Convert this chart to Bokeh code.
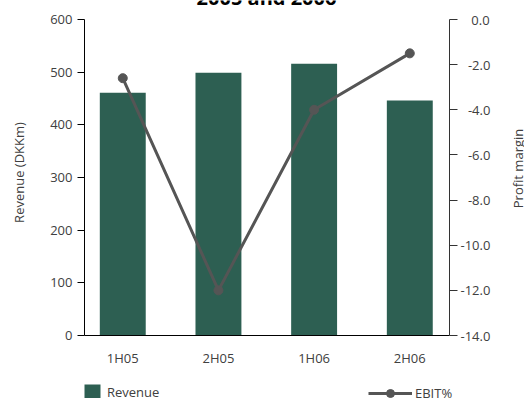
import numpy as np
from bokeh.plotting import figure
from bokeh.models import (Range1d, LinearAxis, FixedTicker, Label, Legend,
                          LegendItem)
from bokeh.embed import file_html
from bokeh.resources import INLINE

# --- data -------------------------------------------------------------
periods = ["1H05", "2H05", "1H06", "2H06"]
revenue = [461, 499, 516, 446]            # DKKm
ebit_margin = [-2.6, -12.0, -4.0, -1.5]   # EBIT %
revenue_ticks = [0, 100, 200, 300, 400, 500, 600]
margin_ticks = [0.0, -2.0, -4.0, -6.0, -8.0, -10.0, -12.0, -14.0]
title_text = "2005 and 2006"

# --- styling ----------------------------------------------------------
FONT = "Open Sans"
TEXT = "#404040"
BAR = "#2d5f52"
LINE = "#555555"

# canvas size and the edges of the plotting box (px from top-left)
W, H = 524, 398
BOX_L, BOX_R, BOX_T, BOX_B = 84, 449, 19, 335

# value ranges covered by the plotting box
X_LO, X_HI = -0.40, 3.415
REV_LO, REV_HI = 0, 600
MAR_LO, MAR_HI = -14, 0


def canvas_range(lo, hi, near, far, size_near, size_far):
    """Extend [lo, hi] (spanning far-near px) out to the canvas edges."""
    per_px = (hi - lo) / (far - near)
    return Range1d(lo - size_near * per_px, hi + size_far * per_px)


x_range = canvas_range(X_LO, X_HI, BOX_L, BOX_R, BOX_L, W - BOX_R)
rev_range = canvas_range(REV_LO, REV_HI, BOX_T, BOX_B, H - BOX_B, BOX_T)
mar_range = canvas_range(MAR_LO, MAR_HI, BOX_T, BOX_B, H - BOX_B, BOX_T)

x = np.arange(len(periods))

p = figure(width=W, height=H, output_backend="svg", toolbar_location=None,
           title=None, x_range=x_range, y_range=rev_range,
           min_border=0, min_border_left=0, min_border_right=0,
           min_border_top=0, min_border_bottom=0)
p.outline_line_color = None
p.xgrid.visible = False
p.ygrid.visible = False
p.background_fill_color = "white"
p.border_fill_color = "white"

p.extra_y_ranges = {"margin": mar_range}

bars = p.vbar(x=x, top=revenue, bottom=0, width=0.48,
              fill_color=BAR, line_color=None)
line = p.line(x, ebit_margin, y_range_name="margin",
              line_color=LINE, line_width=3)
dots = p.scatter(x, ebit_margin, y_range_name="margin", size=9,
                 fill_color=LINE, line_color=LINE)

# left axis: revenue
ly = p.yaxis[0]
ly.fixed_location = X_LO
ly.bounds = (REV_LO, REV_HI)
ly.ticker = FixedTicker(ticks=revenue_ticks)
ly.axis_line_color = "black"
ly.major_tick_line_color = "black"
ly.major_tick_out = 7
ly.major_tick_in = 0
ly.minor_tick_out = 0
ly.minor_tick_in = 0
ly.major_label_standoff = 5
ly.major_label_text_font = FONT
ly.major_label_text_font_size = "13px"
ly.major_label_text_color = TEXT

# bottom axis: periods
bx = p.xaxis[0]
bx.fixed_location = REV_LO
bx.bounds = (X_LO, X_HI)
bx.ticker = FixedTicker(ticks=list(x))
bx.major_label_overrides = {int(i): s for i, s in zip(x, periods)}
bx.axis_line_color = "black"
bx.major_tick_out = 0
bx.major_tick_in = 0
bx.minor_tick_out = 0
bx.minor_tick_in = 0
bx.major_label_standoff = 13
bx.major_label_text_font = FONT
bx.major_label_text_font_size = "13px"
bx.major_label_text_color = TEXT


def margin_label(t):
    # pad shorter labels so the column lines up on the right
    s = f"{t:.1f}"
    if abs(t) < 10:
        s = "\u2007" + s
    if t >= 0:
        s = "\u2008" + s
    return s


# right axis: profit margin
ry = LinearAxis(y_range_name="margin", fixed_location=X_HI,
                bounds=(MAR_LO, MAR_HI),
                ticker=FixedTicker(ticks=margin_ticks),
                major_label_overrides={t: margin_label(t) for t in margin_ticks},
                axis_line_color="#333333", major_tick_line_color="#333333",
                major_tick_out=8, major_tick_in=0,
                minor_tick_out=0, minor_tick_in=0,
                major_label_standoff=3,
                major_label_text_font=FONT, major_label_text_font_size="13px",
                major_label_text_color=TEXT)
p.add_layout(ry, "right")

# axis titles (screen units measured from the bottom-left corner)
p.add_layout(Label(x=18.5, y=H - 172, x_units="screen", y_units="screen",
                   text="Revenue (DKKm)", angle=np.pi / 2, text_align="center",
                   text_baseline="middle", text_font=FONT,
                   text_font_size="13px", text_color=TEXT))
p.add_layout(Label(x=517, y=H - 168, x_units="screen", y_units="screen",
                   text="Profit margin", angle=np.pi / 2, text_align="center",
                   text_baseline="middle", text_font=FONT,
                   text_font_size="13px", text_color=TEXT))

# chart title, running off the top edge
p.add_layout(Label(x=266, y=H + 3.5, x_units="screen", y_units="screen",
                   text=title_text, text_align="center",
                   text_baseline="alphabetic", text_font=FONT,
                   text_font_style="bold", text_font_size="20px",
                   text_color="black"))


# legends
def legend_style(lg, gw):
    lg.border_line_color = None
    lg.background_fill_alpha = 0
    lg.padding = 0
    lg.margin = 0
    lg.spacing = 0
    lg.glyph_width = gw
    lg.glyph_height = 20
    lg.label_text_font = FONT
    lg.label_text_font_size = "13px"
    lg.label_text_color = TEXT
    lg.label_height = 20


leg_rev = Legend(items=[LegendItem(label="Revenue", renderers=[bars])],
                 location=(82, -4))
legend_style(leg_rev, 20)
leg_rev.label_standoff = 5
p.add_layout(leg_rev, "center")

leg_ebit = Legend(items=[LegendItem(label="EBIT%", renderers=[line, dots])],
                  location=(368, -5))
legend_style(leg_ebit, 44)
leg_ebit.label_standoff = 3
p.add_layout(leg_ebit, "center")

open("out.html", "w").write(file_html(p, INLINE))
